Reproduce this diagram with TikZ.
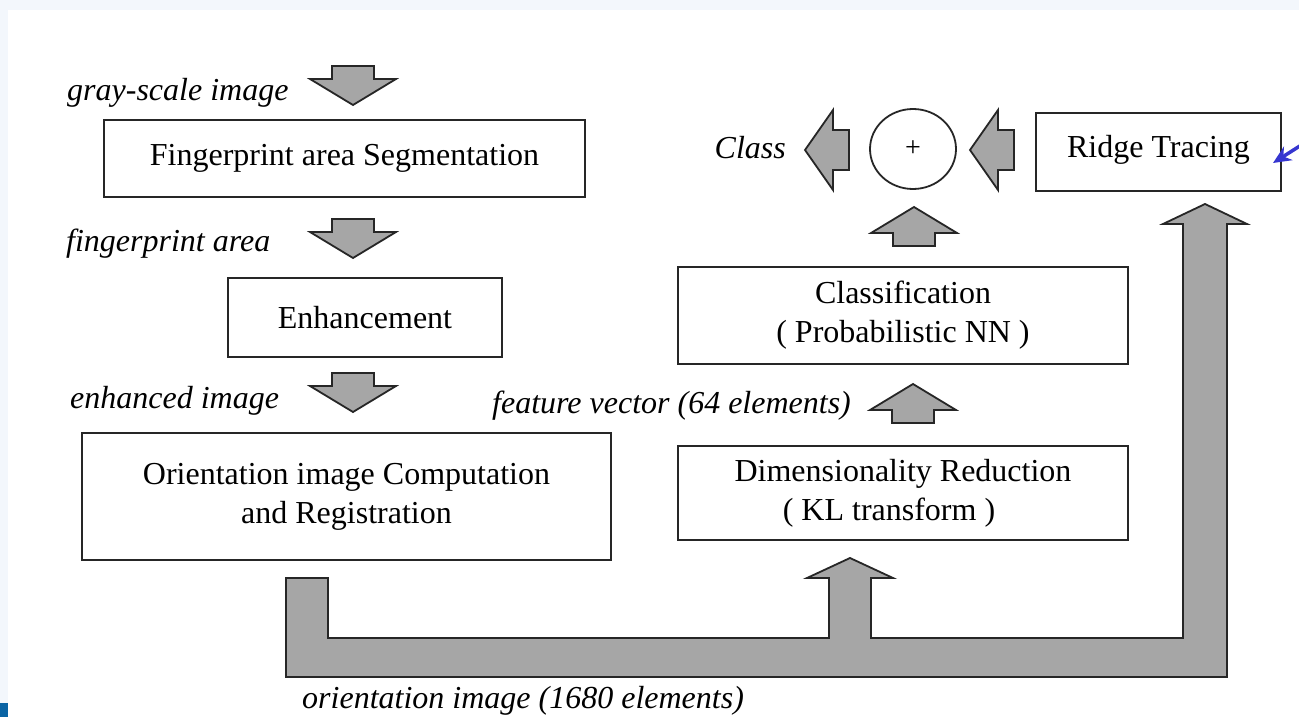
\documentclass[tikz,border=0pt]{standalone}
\usepackage{fontspec}
\setmainfont{Liberation Serif}
\usetikzlibrary{arrows.meta,shapes.geometric}
\definecolor{blkgray}{HTML}{A6A6A6}
\definecolor{pagebg}{HTML}{F3F7FC}
\definecolor{darkblue}{HTML}{0A64A4}
\definecolor{markblue}{HTML}{3636D0}
\tikzset{
  box/.style={draw=black!85, line width=1.8pt, fill=white, inner sep=0pt,
    font=\fontsize{32}{39}\selectfont, align=center},
  lbl/.style={font=\fontsize{32}{39}\selectfont\itshape, inner sep=0pt},
  blk/.style={draw=black!85, line width=1.8pt, fill=blkgray, line join=miter},
  upblk/.pic={\path[blk] (0,0) -- (43,26) -- (21,26) -- (21,39) -- (-21,39) -- (-21,26) -- (-43,26) -- cycle;},
  leftblk/.pic={\path[blk] (0,0) -- (28,-40) -- (28,-20) -- (44,-20) -- (44,20) -- (28,20) -- (28,40) -- cycle;},
}
\begin{document}
\begin{tikzpicture}[x=1pt,y=-1pt]
\useasboundingbox (0,0) rectangle (1299,717);
\fill[pagebg] (0,0) rectangle (1299,717);
\fill[white] (8,10) rectangle (1299,717);
\fill[darkblue] (0,703) rectangle (8,717);

% boxes
\node[box, minimum width=481, minimum height=77] (seg) at (344.5,158.5) {Fingerprint area Segmentation};
\node[box, minimum width=274, minimum height=79] (enh) at (365,317.5) {Enhancement};
\node[box, minimum width=529, minimum height=127] (ori) at (346.5,496.5) {Orientation image Computation\\and Registration};
\node[box, minimum width=245, minimum height=78, text depth=12pt] (ridge) at (1158.5,152) {Ridge Tracing};
\node[box, minimum width=450, minimum height=97] (cls) at (903,315.5) {Classification\\( Probabilistic NN )};
\node[box, minimum width=450, minimum height=94] (dim) at (903,493) {Dimensionality Reduction\\( KL transform )\hspace*{28pt}};
\node[draw=black!85, line width=1.8pt, ellipse, minimum width=86, minimum height=80, inner sep=0pt,
  font=\fontsize{28}{30}\selectfont] (sum) at (913,149) {+};

% labels
\node[lbl, anchor=base west] (gray) at (67,100) {gray-scale image};
\node[lbl, anchor=base west] (farea) at (66,251) {fingerprint area};
\node[lbl, anchor=base west] (enhimg) at (70,408) {enhanced image};
\node[lbl, anchor=base east] (class) at (786,158) {Class};
\node[lbl, anchor=base west] (feat) at (492,413) {feature vector (64 elements)};
\node[lbl, anchor=base west] (orimg) at (302,708) {orientation image (1680 elements)};

% block arrows
\pic[rotate=180] at (353,105) {upblk};
\pic[rotate=180] at (353,258) {upblk};
\pic[rotate=180] at (353,412) {upblk};
\pic at (913,384) {upblk};
\pic at (914,207) {upblk};
\pic at (805,150) {leftblk};
\pic at (970,150) {leftblk};

% orientation image distribution arrow
\path[blk] (286,578) -- (328,578) -- (328,638) -- (829,638) -- (829,578) -- (807,578)
  -- (850,558) -- (893,578) -- (871,578) -- (871,638) -- (1183,638) -- (1183,224)
  -- (1163,224) -- (1205,204) -- (1247,224) -- (1227,224) -- (1227,677) -- (286,677) -- cycle;

% blue pointer at right edge
\begin{scope}
\clip (0,0) rectangle (1299,717);
\coordinate (ptrstart) at (1325,130);
\coordinate (ptrend) at (1273,163);
\draw[markblue, line width=3.5pt, -{Stealth[length=18pt,width=16pt]}] (ptrstart) -- (ptrend);
\end{scope}
\end{tikzpicture}
\end{document}
